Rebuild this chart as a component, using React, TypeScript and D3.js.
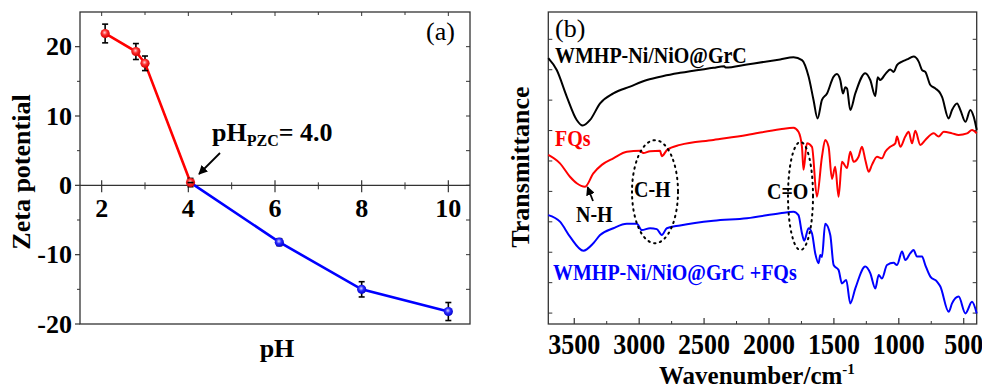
import React from 'react';
import * as d3 from 'd3';

// panel (a): zeta potential vs pH
const phRed = [2.08, 2.79, 3.0, 4.05];
const zetaRed = [21.9, 19.3, 17.6, 0.4];
const errRed = [1.35, 1.15, 1.05, 0.6];
const phBlue = [6.1, 8.0, 10.0];
const zetaBlue = [-8.2, -15.0, -18.2];
const errBlue = [0.5, 1.1, 1.3];
const phTicks = [2, 4, 6, 8, 10];
const zetaTicks = [-20, -10, 0, 10, 20];

// panel (b): FTIR spectra (transmittance, a.u.)
const blackWn = [3700, 3635, 3558, 3481, 3435, 3378, 3301, 3199, 3070, 2941, 2813, 2685, 2428, 2345, 2335, 2170, 1914, 1811, 1746, 1695, 1657, 1626, 1592, 1553, 1502, 1477, 1451, 1430, 1412, 1399, 1374, 1335, 1258, 1220, 1181, 1163, 1143, 1104, 1066, 1040, 1014, 975, 937, 886, 847, 821, 796, 757, 718, 680, 667, 616, 590, 551, 526, 487, 449, 423, 400];
const blackT = [85.2, 81.4, 72.9, 65.4, 63.6, 65.4, 70.7, 73.9, 76.1, 78.2, 79.5, 80.5, 82.1, 82.6, 82.2, 83.2, 84.8, 85.5, 84.6, 79.3, 71.8, 65.9, 71.8, 73.9, 79.3, 80.1, 78.2, 73.9, 75.9, 75.5, 68.6, 73.9, 80.4, 78.2, 73.1, 79.1, 78.2, 80.1, 81.6, 80.8, 83.0, 84.1, 84.8, 85.7, 84.1, 81.4, 80.8, 76.6, 75.5, 73.9, 72.8, 65.9, 68.6, 70.7, 68.6, 64.8, 68.6, 66.4, 62.2];

const redWn = [3700, 3610, 3533, 3481, 3417, 3353, 3288, 3199, 3095, 2993, 2968, 2916, 2839, 2826, 2785, 2685, 2428, 2170, 1914, 1811, 1773, 1746, 1734, 1708, 1669, 1631, 1592, 1567, 1541, 1515, 1490, 1464, 1438, 1399, 1374, 1348, 1310, 1284, 1258, 1232, 1207, 1168, 1130, 1104, 1066, 1027, 1014, 988, 950, 924, 898, 873, 834, 796, 731, 693, 654, 590, 539, 474, 436, 400];
const redT = [54.2, 51.5, 47.2, 45.1, 44.0, 48.3, 51.0, 53.1, 55.2, 55.5, 54.8, 55.4, 55.5, 53.8, 55.8, 57.4, 59.0, 60.6, 62.4, 62.9, 61.6, 56.8, 49.4, 57.9, 56.8, 40.8, 53.6, 59.0, 56.8, 46.5, 50.4, 40.8, 52.0, 50.0, 55.2, 52.0, 53.6, 56.8, 52.6, 48.8, 51.0, 53.6, 53.1, 55.2, 56.8, 57.9, 60.1, 56.8, 60.1, 61.6, 57.9, 61.9, 57.4, 59.0, 61.1, 60.1, 61.6, 61.1, 60.6, 61.1, 62.2, 61.1];

const blueWn = [3700, 3610, 3533, 3430, 3353, 3301, 3199, 3095, 3018, 2980, 2916, 2864, 2826, 2787, 2685, 2428, 2170, 1914, 1811, 1773, 1746, 1729, 1695, 1669, 1644, 1618, 1605, 1592, 1567, 1528, 1502, 1464, 1438, 1405, 1374, 1335, 1258, 1220, 1181, 1155, 1130, 1091, 1040, 1014, 975, 950, 911, 886, 860, 821, 796, 757, 706, 680, 616, 590, 539, 487, 436, 400];
const blueT = [34.9, 32.8, 28.0, 23.5, 25.9, 28.5, 30.7, 32.1, 32.1, 30.1, 30.7, 30.4, 28.5, 30.7, 31.6, 33.1, 33.9, 35.5, 36.0, 34.9, 29.1, 26.7, 30.7, 29.1, 22.7, 19.5, 22.1, 21.5, 32.1, 28.5, 18.9, 17.3, 13.0, 14.1, 6.6, 11.4, 18.4, 16.3, 11.4, 15.7, 14.6, 18.9, 19.6, 18.9, 23.2, 20.5, 22.7, 23.7, 21.6, 21.6, 18.9, 15.2, 13.6, 12.0, 3.9, 6.6, 8.8, 3.4, 7.1, 3.4];

const wnTicks = [3500, 3000, 2500, 2000, 1500, 1000, 500];

const font = '"Liberation Serif", "Times New Roman", serif';

// panel (b) text is a bit taller than it is wide in the original
const Tall = ({ x, y, k = 1.17, children, ...rest }: any) => (
  <text transform={`translate(${x},${y}) scale(1,${k})`} fontWeight="bold" {...rest}>{children}</text>
);

export default function App() {
  const xA = d3.scaleLinear().domain([1.5, 10.5]).range([80, 470]);
  const yA = d3.scaleLinear().domain([-20, 25]).range([324, 12]);
  const xB = d3.scaleLinear().domain([3700, 400]).range([548.3, 976.7]);
  const yB = d3.scaleLinear().domain([0, 100]).range([324, 12]);

  const redPts = phRed.map((p, i) => [p, zetaRed[i], errRed[i]]);
  const bluePts = phBlue.map((p, i) => [p, zetaBlue[i], errBlue[i]]);
  const lineA = d3.line<number[]>().x(d => xA(d[0])).y(d => yA(d[1]));
  const blueLine = [redPts[redPts.length - 1], ...bluePts];

  const lineB = d3.line<number[]>().x(d => xB(d[0])).y(d => yB(d[1])).curve(d3.curveMonotoneX);
  const spectra = [
    { wn: blackWn, t: blackT, color: '#000' },
    { wn: redWn, t: redT, color: '#ff0000' },
    { wn: blueWn, t: blueT, color: '#0000ff' }
  ];

  const y0 = yA(0);
  const minorX = d3.range(3, 11, 2);
  const zetaMinor = [-15, -5, 5, 15];
  const rightTicksA = d3.range(-15, 25, 5);
  const sideTicksB = d3.range(3.5, 100, 9.75);
  const wnMinor = d3.range(3750, 399, -250).filter(v => v % 500 !== 0 && v < 3700);

  const marker = (d: number[], i: number, grad: string) => (
    <g key={i}>
      <line x1={xA(d[0])} x2={xA(d[0])} y1={yA(d[1] - d[2])} y2={yA(d[1] + d[2])} stroke="#000" strokeWidth={1.6} />
      <line x1={xA(d[0]) - 3} x2={xA(d[0]) + 3} y1={yA(d[1] + d[2])} y2={yA(d[1] + d[2])} stroke="#000" strokeWidth={1.6} />
      <line x1={xA(d[0]) - 3} x2={xA(d[0]) + 3} y1={yA(d[1] - d[2])} y2={yA(d[1] - d[2])} stroke="#000" strokeWidth={1.6} />
      <circle cx={xA(d[0])} cy={yA(d[1])} r={4.6} fill={`url(#${grad})`} />
    </g>
  );

  return (
    <svg width={982} height={391} style={{ position: 'absolute', left: 0, top: 0, fontFamily: font }}>
      <defs>
        <radialGradient id="gRed" cx="45%" cy="40%" r="60%">
          <stop offset="0" stopColor="#ffd0d0" />
          <stop offset="0.45" stopColor="#ff2a2a" />
          <stop offset="1" stopColor="#d00000" />
        </radialGradient>
        <radialGradient id="gBlue" cx="45%" cy="40%" r="60%">
          <stop offset="0" stopColor="#d0d0ff" />
          <stop offset="0.45" stopColor="#2a2aff" />
          <stop offset="1" stopColor="#0000c8" />
        </radialGradient>
        <marker id="arr" viewBox="0 0 10 10" refX="9" refY="5" markerWidth="5" markerHeight="5" orient="auto">
          <path d="M0,0 L10,5 L0,10 z" fill="#000" />
        </marker>
      </defs>

      {/* ---------- panel (a) ---------- */}
      <rect x={80} y={12} width={390} height={312} fill="none" stroke="#333" strokeWidth={1.3} />
      <line x1={80} x2={470} y1={y0} y2={y0} stroke="#333" strokeWidth={1.2} />
      {phTicks.map(t => (
        <g key={t}>
          <line x1={xA(t)} x2={xA(t)} y1={y0 - 5} y2={y0 + 7} stroke="#333" strokeWidth={1.2} />
          <line x1={xA(t)} x2={xA(t)} y1={12} y2={16} stroke="#333" strokeWidth={1} />
          <text x={xA(t)} y={217} textAnchor="middle" fontSize={26} fontWeight="bold">{t}</text>
        </g>
      ))}
      {minorX.map(t => (
        <g key={t}>
          <line x1={xA(t)} x2={xA(t)} y1={y0 - 3} y2={y0 + 4} stroke="#333" strokeWidth={1} />
          <line x1={xA(t)} x2={xA(t)} y1={12} y2={15} stroke="#333" strokeWidth={1} />
        </g>
      ))}
      {zetaTicks.map(t => (
        <g key={t}>
          <line x1={75} x2={80} y1={yA(t)} y2={yA(t)} stroke="#333" strokeWidth={1.2} />
          <text x={72} y={yA(t) + 8.5} textAnchor="end" fontSize={26} fontWeight="bold">{t}</text>
        </g>
      ))}
      {zetaMinor.map(t => (
        <line key={t} x1={77} x2={80} y1={yA(t)} y2={yA(t)} stroke="#333" strokeWidth={1} />
      ))}
      {rightTicksA.map(t => (
        <line key={t} x1={466} x2={470} y1={yA(t)} y2={yA(t)} stroke="#333" strokeWidth={1} />
      ))}

      <path d={lineA(redPts) ?? ''} fill="none" stroke="#ff0000" strokeWidth={2.6} />
      <path d={lineA(blueLine) ?? ''} fill="none" stroke="#0000ff" strokeWidth={2.6} />
      {bluePts.map((d, i) => marker(d, i, 'gBlue'))}
      {redPts.map((d, i) => marker(d, i, 'gRed'))}
      <line x1={xA(phRed[3]) - 3} x2={xA(phRed[3]) + 3} y1={yA(zetaRed[3])} y2={yA(zetaRed[3])} stroke="#000" strokeWidth={1.6} />

      <text x={426} y={40} fontSize={26}>(a)</text>
      <text x={212} y={141} fontSize={26} fontWeight="bold">
        pH<tspan fontSize={16} dy={5}>PZC</tspan><tspan dy={-5}>= 4.0</tspan>
      </text>
      <line x1={220} y1={153} x2={199} y2={174} stroke="#000" strokeWidth={1.8} markerEnd="url(#arr)" />

      <text transform="translate(30,172) rotate(-90)" textAnchor="middle" fontSize={26} fontWeight="bold">Zeta potential</text>
      <text x={277} y={357} textAnchor="middle" fontSize={26} fontWeight="bold">pH</text>

      {/* ---------- panel (b) ---------- */}
      <rect x={548.3} y={12} width={428.4} height={312} fill="none" stroke="#333" strokeWidth={1.3} />
      {wnTicks.map(t => (
        <g key={t}>
          <line x1={xB(t)} x2={xB(t)} y1={318} y2={324} stroke="#333" strokeWidth={1.2} />
          <Tall x={xB(t)} y={354} textAnchor="middle" fontSize={26}>{t}</Tall>
        </g>
      ))}
      {wnMinor.map(t => (
        <line key={t} x1={xB(t)} x2={xB(t)} y1={321} y2={324} stroke="#333" strokeWidth={1} />
      ))}
      {sideTicksB.map(t => (
        <g key={t}>
          <line x1={548.3} x2={552.3} y1={yB(t)} y2={yB(t)} stroke="#333" strokeWidth={1} />
          <line x1={972.7} x2={976.7} y1={yB(t)} y2={yB(t)} stroke="#333" strokeWidth={1} />
        </g>
      ))}

      {spectra.map((s, i) => (
        <path key={i} d={lineB(s.wn.map((w, j) => [w, s.t[j]])) ?? ''} fill="none" stroke={s.color} strokeWidth={2} />
      ))}

      <ellipse cx={655} cy={191.7} rx={23} ry={51.5} fill="none" stroke="#000" strokeWidth={2} strokeDasharray="1.5,4.5" strokeLinecap="round" />
      <ellipse cx={800.5} cy={196} rx={12.5} ry={54} fill="none" stroke="#000" strokeWidth={2} strokeDasharray="1.5,4.5" strokeLinecap="round" />

      <text x={555} y={37} fontSize={26}>(b)</text>
      <Tall x={555} y={63} fontSize={20} fill="#000">WMHP-Ni/NiO@GrC</Tall>
      <Tall x={555} y={146} fontSize={20} fill="#ff0000">FQs</Tall>
      <Tall x={576} y={222} fontSize={20}>N-H</Tall>
      <line x1={593} y1={201} x2={587.5} y2={187} stroke="#000" strokeWidth={1.8} markerEnd="url(#arr)" />
      <Tall x={634} y={197} fontSize={20}>C-H</Tall>
      <Tall x={767} y={199} fontSize={20}>C=O</Tall>
      <Tall x={553} y={280} fontSize={20} fill="#0000ff">WMHP-Ni/NiO@GrC +FQs</Tall>

      <text transform="translate(529,167) rotate(-90)" textAnchor="middle" fontSize={26} fontWeight="bold">Transmittance</text>
      <Tall x={659} y={384} k={1} fontSize={25}>
        Wavenumber/cm<tspan fontSize={15} dy={-10}>-1</tspan>
      </Tall>
    </svg>
  );
}
